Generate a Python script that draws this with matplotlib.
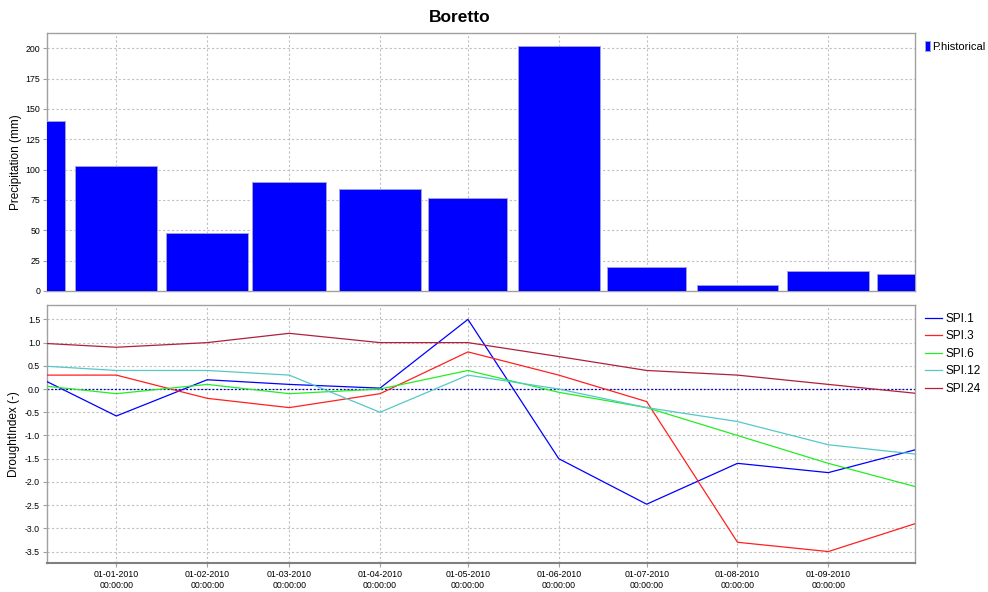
import numpy as np
import pandas as pd
import matplotlib
matplotlib.use("Agg")
import matplotlib.pyplot as plt
import matplotlib.dates as mdates
from matplotlib.ticker import MultipleLocator, FormatStrFormatter

plt.rcParams['font.family'] = ['Liberation Sans', 'DejaVu Sans']

# precipitation, one bar per month (centred on the 1st)
bar_months = ['2009-12-01', '2010-01-01', '2010-02-01', '2010-03-01', '2010-04-01',
              '2010-05-01', '2010-06-01', '2010-07-01', '2010-08-01', '2010-09-01',
              '2010-10-01']
precip = [140, 103, 47.5, 89.5, 84, 76.5, 201.5, 19.8, 4.9, 16.5, 14.3]

# drought index series
spi_dates = ['2009-12-08 08:00', '2010-01-01 00:00', '2010-02-01 00:00', '2010-03-01 00:00',
             '2010-04-01 00:00', '2010-05-01 00:00', '2010-06-01 00:00', '2010-07-01 00:00',
             '2010-08-01 00:00', '2010-09-01 00:00', '2010-09-30 14:00']
spi1 = [0.16, -0.58, 0.2, 0.1, 0.02, 1.5, -1.5, -2.48, -1.6, -1.8, -1.31]
spi3 = [0.3, 0.3, -0.2, -0.4, -0.1, 0.8, 0.3, -0.27, -3.3, -3.5, -2.9]
spi6 = [0.06, -0.1, 0.1, -0.1, 0.0, 0.4, -0.07, -0.4, -1.0, -1.6, -2.1]
spi12 = [0.49, 0.4, 0.4, 0.3, -0.5, 0.3, 0.0, -0.4, -0.7, -1.2, -1.4]
spi24 = [0.98, 0.9, 1.0, 1.2, 1.0, 1.0, 0.7, 0.4, 0.3, 0.1, -0.09]

series = [('SPI.1', spi1, '#0000ff'), ('SPI.3', spi3, '#ff2020'),
          ('SPI.6', spi6, '#22ee22'), ('SPI.12', spi12, '#55c8c8'),
          ('SPI.24', spi24, '#b0203a')]

xmin = pd.Timestamp('2009-12-08 08:00')
xmax = pd.Timestamp('2010-09-30 14:00')

fig = plt.figure(figsize=(9.88, 5.92), dpi=100)
ax1 = fig.add_axes([47/988, 1-291/592, 868/988, 258/592])
ax2 = fig.add_axes([47/988, 1-562.7/592, 868/988, 257.7/592], sharex=ax1)

gridkw = dict(color='#c0c0c0', linestyle=(0, (2, 2)), linewidth=0.8)

# --- top: precipitation bars
bm = pd.to_datetime(bar_months)
prev_days = (bm - pd.DateOffset(months=1)).days_in_month
ax1.bar(bm, precip, width=0.9*np.array(prev_days), color='#0000ff',
        edgecolor='#a0a0e0', linewidth=0.7, label='P.historical', zorder=3)
ax1.set_ylim(0, 212.6)
ax1.yaxis.set_major_locator(MultipleLocator(25))
ax1.set_ylabel('Precipitation (mm)', fontsize=8.5)
ax1.yaxis.set_label_coords(-0.029, 0.5)
ax1.grid(True, **gridkw)
ax1.tick_params(axis='x', bottom=False, labelbottom=False)
ax1.legend(loc='upper left', bbox_to_anchor=(1.003, 1.0), frameon=False,
           fontsize=8, handlelength=0.4, handleheight=1.0, handletextpad=0.25,
           borderaxespad=0.3)

# --- bottom: drought indices
sd = pd.to_datetime(spi_dates, format='%Y-%m-%d %H:%M')
for name, vals, col in series:
    ax2.plot(sd, vals, color=col, linewidth=0.9, label=name, zorder=3)
ax2.axhline(0, color='#0000cc', linestyle=(0, (1.5, 1.5)), linewidth=0.9, zorder=2)
ax2.set_ylim(-3.74, 1.81)
ax2.yaxis.set_major_locator(MultipleLocator(0.5))
ax2.yaxis.set_major_formatter(FormatStrFormatter('%.1f'))
ax2.set_ylabel('DroughtIndex (-)', fontsize=8.5)
ax2.yaxis.set_label_coords(-0.031, 0.5)
ax2.grid(True, **gridkw)
ax2.legend(loc='upper left', bbox_to_anchor=(1.003, 1.0), frameon=False,
           fontsize=8.5, handlelength=1.4, handletextpad=0.35, labelspacing=0.47,
           borderaxespad=0.25)

ax2.set_xlim(xmin, xmax)
ax2.xaxis.set_major_locator(mdates.MonthLocator(bymonthday=1))
ax2.xaxis.set_major_formatter(mdates.DateFormatter('%d-%m-%Y\n%H:%M:%S'))

for ax in (ax1, ax2):
    for sp in ax.spines.values():
        sp.set_color('#a0a0a0')
        sp.set_linewidth(1.0)
    ax.tick_params(labelsize=6.3, color='#a0a0a0', length=3, width=0.8, pad=2)
ax2.spines['bottom'].set_color('#808080')
ax2.spines['bottom'].set_linewidth(1.5)
for t in ax2.get_xticklabels():
    t.set_fontsize(6.3)
    t.set_linespacing(1.3)

fig.text(460/988, 1-18/592, 'Boretto', ha='center', va='center',
         fontsize=12.5, fontweight='bold')

fig.savefig('out.png', dpi=100)
